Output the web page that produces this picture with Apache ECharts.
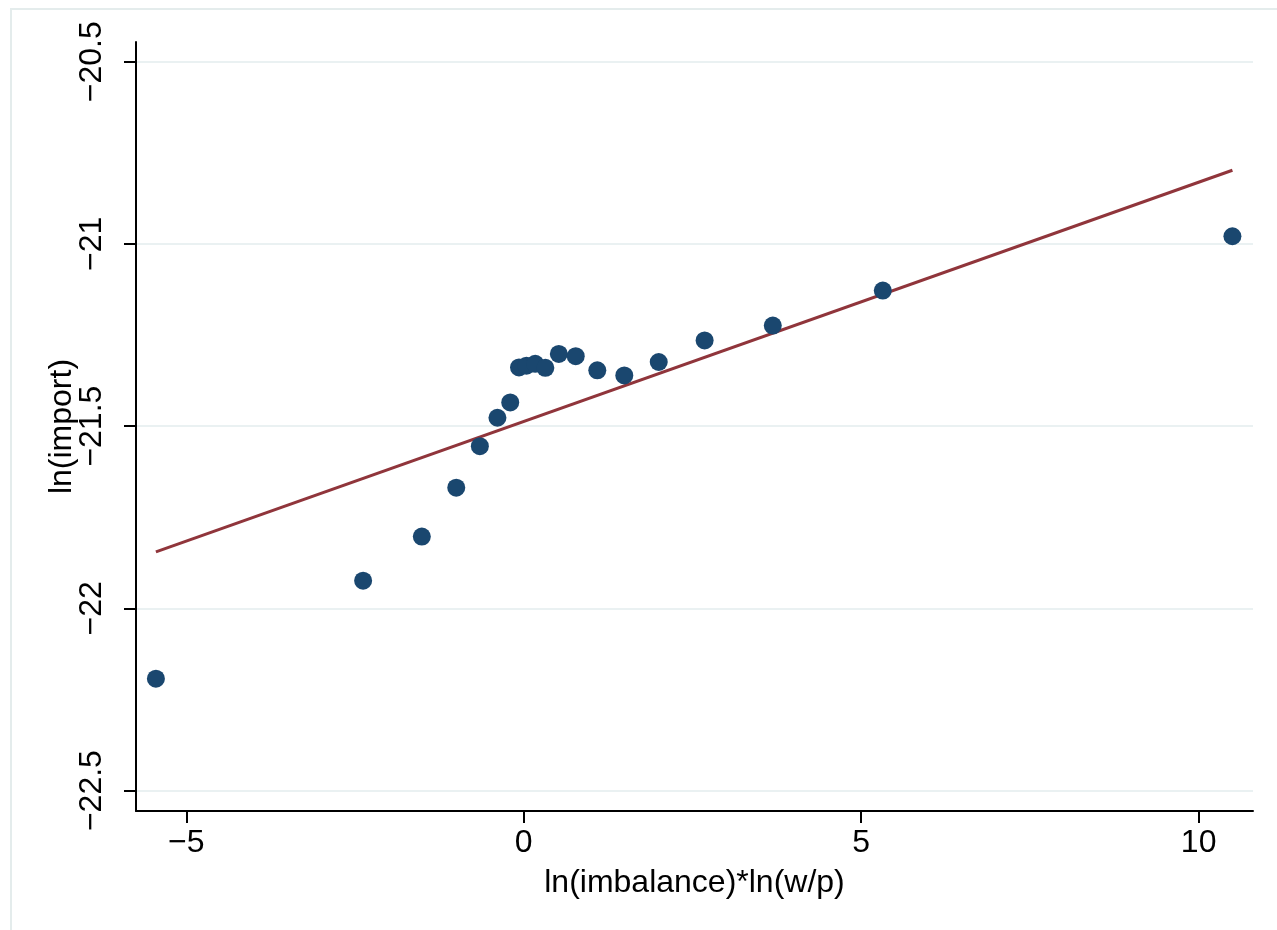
<!DOCTYPE html>
<html>
<head>
<meta charset="utf-8">
<style>
  html, body { margin: 0; padding: 0; background: #fff; }
  #chart { width: 1277px; height: 930px; }
</style>
<script src="https://cdn.jsdelivr.net/npm/echarts@6/dist/echarts.min.js"></script>
</head>
<body>
<div id="chart"></div>
<script>
// binned scatter points
var pointX = [-5.45, -2.38, -1.51, -1.00, -0.65, -0.39, -0.20, -0.07, 0.04, 0.17,
    0.32, 0.52, 0.77, 1.09, 1.49, 2.00, 2.68, 3.69, 5.32, 10.50]
var pointY = [-22.193, -21.924, -21.803, -21.669, -21.555, -21.477, -21.435, -21.339, -21.334, -21.329,
    -21.340, -21.302, -21.308, -21.347, -21.361, -21.324, -21.265, -21.224, -21.128, -20.979]
// fitted line end points
var fitX = [-5.45, 10.50]
var fitY = [-21.845, -20.798]
// tick labels
var xTicks = [-5, 0, 5, 10]
var yTicks = [-22.5, -22, -21.5, -21, -20.5]

var font = 'Liberation Sans, Arial, Helvetica, sans-serif'
var minus = function(v) { return String(v).replace('-', '\u2212') }

var chart = echarts.init(document.getElementById('chart'))
chart.setOption({
    animation: false,
    textStyle: { fontFamily: font },
    graphic: [{
        type: 'rect',
        shape: { x: 11, y: 9, width: 1300, height: 950 },
        style: { fill: 'none', stroke: '#e4ecec', lineWidth: 2 },
        silent: true
    }],
    grid: { left: 136, top: 42, right: 24, bottom: 119 },
    xAxis: {
        type: 'value',
        min: -5.745,
        max: 10.805,
        name: 'ln(imbalance)*ln(w/p)',
        nameLocation: 'middle',
        nameGap: 56,
        nameMoveOverlap: false,
        nameTextStyle: { fontSize: 32, color: '#000', fontFamily: font },
        axisLine: { onZero: false, lineStyle: { color: '#000', width: 2 } },
        axisTick: { customValues: xTicks, length: 12, lineStyle: { color: '#000', width: 2 } },
        axisLabel: {
            customValues: xTicks, fontSize: 32, color: '#000', margin: 16,
            formatter: function(v) { return minus(v) }
        },
        splitLine: { show: false }
    },
    yAxis: {
        type: 'value',
        min: -22.556,
        max: -20.446,
        name: 'ln(import)',
        nameLocation: 'middle',
        nameGap: 58,
        nameMoveOverlap: false,
        nameTextStyle: { fontSize: 32, color: '#000', fontFamily: font },
        axisLine: { onZero: false, lineStyle: { color: '#000', width: 2 } },
        axisTick: { customValues: yTicks, length: 12, lineStyle: { color: '#000', width: 2 } },
        axisLabel: {
            customValues: yTicks, fontSize: 32, color: '#000', rotate: 90, margin: 28,
            formatter: function(v) { return minus(v) }
        },
        splitLine: { show: true, lineStyle: { color: '#eaf1f2', width: 2 } }
    },
    series: [
        {
            type: 'line',
            data: fitX.map(function(x, i) { return [x, fitY[i]] }),
            symbol: 'none',
            lineStyle: { color: '#90353b', width: 3 },
            z: 2
        },
        {
            type: 'scatter',
            data: pointX.map(function(x, i) { return [x, pointY[i]] }),
            symbolSize: 18,
            itemStyle: { color: '#1a476f', opacity: 1 },
            z: 3
        }
    ]
})
</script>
</body>
</html>
